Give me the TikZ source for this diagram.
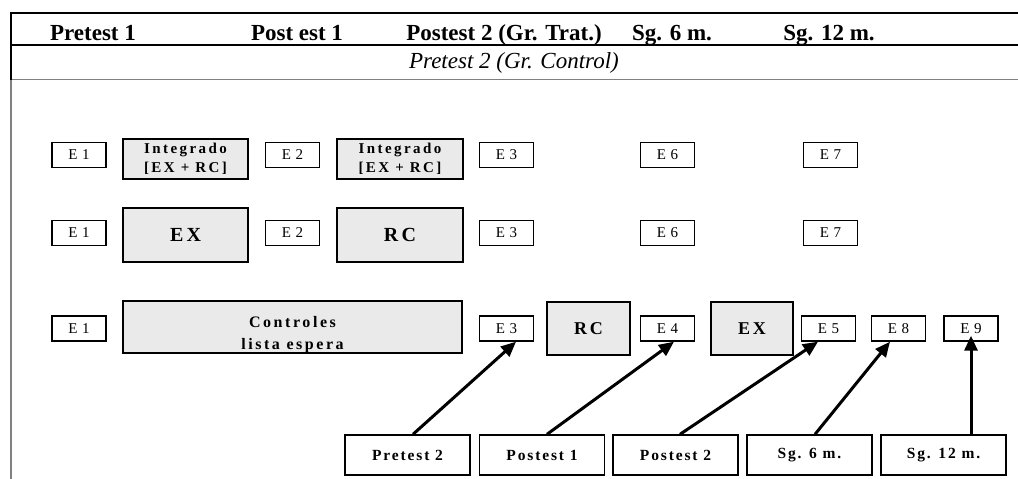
\documentclass[tikz,border=0pt]{standalone}
\usepackage{fontspec}
\setmainfont{Liberation Serif}
\newfontfamily\efont[LetterSpace=30]{Liberation Serif}
\newfontfamily\tfont[LetterSpace=16]{Liberation Serif}
\newfontfamily\bfont[LetterSpace=12]{Liberation Serif}
\usetikzlibrary{arrows.meta}
\definecolor{boxgray}{RGB}{234,234,234}

\begin{document}
\begin{tikzpicture}[x=1pt, y=-1pt,
    ebox/.style={draw, line width=1.4pt, minimum width=54pt, minimum height=25pt,
        font=\efont\fontsize{15}{17}\selectfont},
    tbox/.style={draw, line width=1.4pt, fill=boxgray, align=center,
        font=\tfont\bfseries\fontsize{15}{19}\selectfont},
    bbox/.style={draw, line width=1.4pt, minimum width=125pt, minimum height=40pt,
        font=\bfont\bfseries\fontsize{15.5}{17}\selectfont},
    hdr/.style={anchor=base, font=\bfseries\fontsize{23}{27}\selectfont},
    arr/.style={line width=3pt, -{Triangle[length=15pt,width=13pt]}}]
            \tikzstyle{every node}+=[inner sep=0pt]
            \useasboundingbox (0,0) rectangle (1018,479);
            % table frame
            \draw [line width=2pt] (10,13) -- (1018,13);
            \draw [line width=2pt] (10,45) -- (1018,45);
            \draw [gray, line width=1pt] (10,79) -- (1018,79);
            \draw [line width=2pt] (11,12) -- (11,80);
            \draw [gray, line width=1.6pt] (11,80) -- (11,479);
            \node [hdr] (h1) at (93,40) {Pretest 1};
            \node [hdr] (h2) at (297,40) {Post est 1};
            \node [hdr] (h3) at (504,40) {Postest 2 (Gr. Trat.)};
            \node [hdr] (h4) at (672,40) {Sg. 6 m.};
            \node [hdr] (h5) at (829,40) {Sg. 12 m.};
            \node [anchor=base, font=\itshape\fontsize{23}{27}\selectfont] (h6) at (514,68) {Pretest 2 (Gr. Control)};
            % row 1
            \node [ebox] (e1a) at (79,155) {E1};
            \node [tbox, minimum width=125pt, minimum height=40pt] (inta) at (185.5,159) {Integrado\\{}[EX + RC]};
            \node [ebox] (e2a) at (292.5,155) {E2};
            \node [tbox, minimum width=126pt, minimum height=40pt] (intb) at (400,159) {Integrado\\{}[EX + RC]};
            \node [ebox] (e3a) at (506.5,155) {E3};
            \node [ebox] (e6a) at (667.5,155) {E6};
            \node [ebox] (e7a) at (830.5,155) {E7};
            % row 2
            \node [ebox] (e1b) at (79,233) {E1};
            \node [tbox, minimum width=125pt, minimum height=54pt, font=\tfont\bfseries\fontsize{20}{22}\selectfont] (exb) at (185.5,235) {EX};
            \node [ebox] (e2b) at (292.5,233) {E2};
            \node [tbox, minimum width=126pt, minimum height=54pt, font=\tfont\bfseries\fontsize{20}{22}\selectfont] (rcb) at (400,235) {RC};
            \node [ebox] (e3b) at (506.5,233) {E3};
            \node [ebox] (e6b) at (667.5,233) {E6};
            \node [ebox] (e7b) at (830.5,233) {E7};
            % row 3
            \node [ebox] (e1c) at (79,328.5) {E1};
            \node [tbox, minimum width=339pt, minimum height=52pt, font=\tfont\bfseries\fontsize{16}{22}\selectfont] (ctrl) at (292.5,327) {\raisebox{-11pt}[0pt][0pt]{\begin{tabular}{@{}c@{}}Controles\\lista espera\end{tabular}}};
            \node [ebox] (e3c) at (506.5,328.5) {E3};
            \node [tbox, minimum width=83pt, minimum height=53pt, font=\tfont\bfseries\fontsize{18}{20}\selectfont] (rcc) at (588.5,328.5) {RC};
            \node [ebox] (e4c) at (667.5,328.5) {E4};
            \node [tbox, minimum width=82pt, minimum height=53pt, font=\tfont\bfseries\fontsize{18}{20}\selectfont] (exc) at (752,328.5) {EX};
            \node [ebox] (e5c) at (828.5,328.5) {E5};
            \node [ebox] (e8c) at (898.5,328.5) {E8};
            \node [ebox] (e9c) at (971,328.5) {E9};
            % bottom labels
            \node [bbox] (pre2) at (407.5,455) {Pretest 2};
            \node [bbox] (post1) at (542,455) {Postest 1};
            \node [bbox] (post2) at (675.5,455) {Postest 2};
            \node [bbox] (sg6) at (809.5,455) {Sg. 6 m.};
            \node [bbox] (sg12) at (943.5,455) {Sg. 12 m.};
            \draw [arr] ([xshift=5.5pt]pre2.north) -- ([xshift=9.5pt]e3c.south);
            \draw [arr] ([xshift=5pt]post1.north) -- ([xshift=6.5pt]e4c.south);
            \draw [arr] ([xshift=4.5pt]post2.north) -- ([xshift=-10.5pt]e5c.south);
            \draw [arr] ([xshift=5.5pt]sg6.north) -- ([xshift=-8.5pt]e8c.south);
            \draw [arr] ([xshift=27.5pt]sg12.north) -- ([yshift=6pt]e9c.south);
        \end{tikzpicture}
\end{document}
